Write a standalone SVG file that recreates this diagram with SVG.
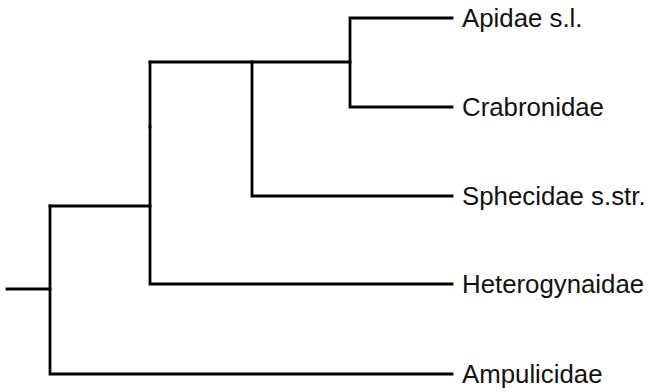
<svg xmlns="http://www.w3.org/2000/svg" width="649" height="392" viewBox="0 0 649 392">
<style>
.br{fill:none;stroke:#000;stroke-width:2.8;stroke-linecap:square;stroke-linejoin:miter}
.lb{font-family:"Liberation Sans",Arial,sans-serif;font-size:25.8px;fill:#111}
</style>
<rect width="649" height="392" fill="#fff"/>
<g id="connectors">
<path class="br" d="M7,289 H50"/>
<path class="br" d="M50,206 V374 H452"/>
<path class="br" d="M50,206 H150 V284 H452"/>
<path class="br" d="M150,127 V206"/>
<path class="br" d="M150,62 V127"/>
<path class="br" d="M150,62 H252 V196 H452"/>
<path class="br" d="M252,62 H350 V18 H452"/>
<path class="br" d="M350,62 V107 H452"/>
</g>
<g id="apidae"><text class="lb" x="462" y="27">Apidae s.l.</text></g>
<g id="crabronidae"><text class="lb" x="462" y="116" fill="#333">Crabronidae</text></g>
<g id="sphecidae"><text class="lb" x="462" y="205">Sphecidae s.str.</text></g>
<g id="heterogynaidae"><text class="lb" x="462" y="293">Heterogynaidae</text></g>
<g id="ampulicidae"><text class="lb" x="462" y="383">Ampulicidae</text></g>
</svg>
